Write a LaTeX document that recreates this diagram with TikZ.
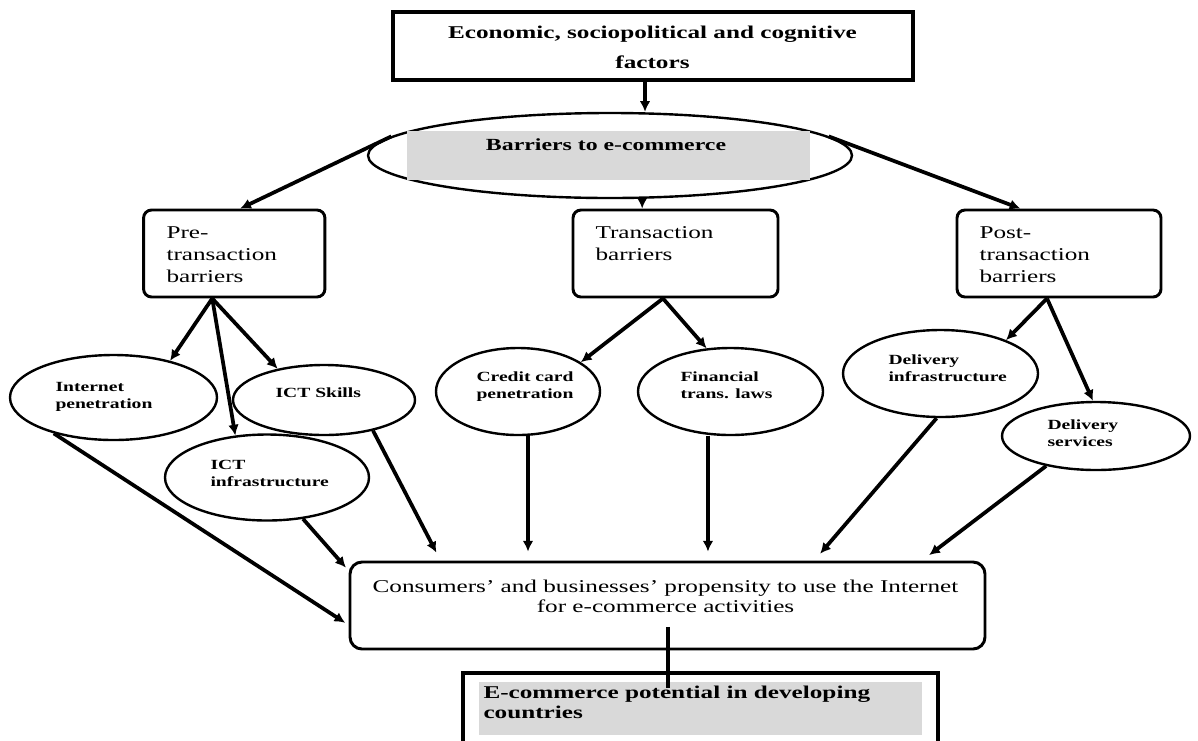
\documentclass[tikz,border=0pt]{standalone}
\usepackage{fontspec}
\setmainfont{Liberation Serif}[FakeStretch=1.4]
\usetikzlibrary{arrows.meta,shapes.geometric}

\definecolor{bandgray}{RGB}{217,217,217}

\tikzset{every picture/.style={line width=0.75pt}}
\tikzset{
  plainbox/.style={draw, rectangle, line width=2.4pt, inner sep=0pt},
  roundbox/.style={draw, rectangle, rounded corners=6pt, line width=2.2pt, inner sep=0pt},
  oval/.style={draw, ellipse, line width=1.8pt, inner sep=0pt},
  band/.style={fill=bandgray, rectangle, inner sep=0pt},
  headtxt/.style={inner sep=0pt, font=\fontsize{13.5}{22.5}\selectfont\bfseries},
  boxtxt/.style={inner sep=0pt, anchor=base west, align=left, font=\fontsize{13.5}{16.5}\selectfont},
  ovaltxt/.style={inner sep=0pt, anchor=base west, align=left, font=\fontsize{10.5}{12.75}\selectfont\bfseries},
  arr/.style={-{Latex[length=8pt,width=8pt]}, line width=2.8pt},
  tobox/.style={shorten >=6.75pt}
}

\begin{document}
\begin{tikzpicture}[x=0.75pt,y=0.75pt,yscale=-1,xscale=1]
\useasboundingbox (0,0) rectangle (1198,740);
\clip (0,0) rectangle (1198,740);

%Shape: Rectangle [top]
\node[plainbox, minimum width=390pt, minimum height=51pt] (econ) at (653,46) {};
% Text Node
\node[headtxt, anchor=base, align=center] (econtxt) at (652.5,68) {Economic, sociopolitical and cognitive\\factors};

%Shape: Ellipse [barriers]
\node[oval, minimum width=363pt, minimum height=63.75pt] (barr) at (610,155.5) {};
%Shape: Rectangle [barriers band]
\node[band, minimum width=302.25pt, minimum height=36.75pt] (barrband) at (608.5,155.5) {};
% Text Node
\node[inner sep=0pt, anchor=base, font=\fontsize{12.75}{15}\selectfont\bfseries] (barrtxt) at (606,150) {Barriers to e-commerce};

%Shape: Rounded Rectangle [stages]
\node[roundbox, minimum width=136pt, minimum height=65.25pt] (pre) at (234.25,253.5) {};
\node[roundbox, minimum width=153.75pt, minimum height=65.25pt] (trans) at (675.5,253.5) {};
\node[roundbox, minimum width=153pt, minimum height=65.25pt] (post) at (1059,253.5) {};
% Text Node
\node[boxtxt] (pretxt) at (166,282) {Pre-\\transaction\\barriers};
% Text Node
\node[boxtxt] (transtxt) at (595,260) {Transaction\\barriers};
% Text Node
\node[boxtxt] (posttxt) at (979,282) {Post-\\transaction\\barriers};

%Shape: Ellipse [factors]
\node[oval, minimum width=155.25pt, minimum height=63.75pt] (inet) at (113.5,397.5) {};
\node[oval, minimum width=136.5pt, minimum height=52.5pt] (skills) at (324,400) {};
\node[oval, minimum width=153pt, minimum height=64.5pt] (infra) at (267,477.5) {};
\node[oval, minimum width=123pt, minimum height=65.25pt] (credit) at (518,391.5) {};
\node[oval, minimum width=138.75pt, minimum height=65.25pt] (fin) at (730.5,391.5) {};
\node[oval, minimum width=146.25pt, minimum height=65.25pt] (dinfra) at (940.5,373.5) {};
\node[oval, minimum width=141pt, minimum height=51pt] (dserv) at (1096,436) {};
% Text Node
\node[ovaltxt] (inettxt) at (55,408) {Internet\\penetration};
% Text Node
\node[ovaltxt] (skillstxt) at (275,397) {ICT Skills};
% Text Node
\node[ovaltxt] (infratxt) at (210,486) {ICT\\infrastructure};
% Text Node
\node[ovaltxt] (credittxt) at (476,398) {Credit card\\penetration};
% Text Node
\node[ovaltxt] (fintxt) at (680,398) {Financial\\trans. laws};
% Text Node
\node[ovaltxt] (dinfratxt) at (888,381) {Delivery\\infrastructure};
% Text Node
\node[ovaltxt] (dservtxt) at (1047,446) {Delivery\\services};

%Shape: Rounded Rectangle [propensity]
\node[roundbox, rounded corners=9pt, minimum width=476.25pt, minimum height=65.25pt] (cons) at (667.5,605.5) {};
% Text Node
\node[inner sep=0pt, anchor=base, align=center, font=\fontsize{13.5}{15}\selectfont] (constxt) at (665.5,612) {Consumers' and businesses' propensity to use the Internet\\for e-commerce activities};

%Shape: Rectangle [potential]
\node[plainbox, minimum width=356.25pt, minimum height=58.5pt] (ecom) at (700.5,712) {};
\node[band, minimum width=332.25pt, minimum height=39.75pt] (ecomband) at (700.5,708.5) {};
% Text Node
\node[headtxt, anchor=base west, align=left, font=\fontsize{13.5}{15}\selectfont\bfseries] (ecomtxt) at (483,718) {E-commerce potential in developing\\countries};

%Straight Lines [top levels]
\draw[arr] ([xshift=-6pt]econ.south) -- ([xshift=-6pt]econ.south |- barr.north);
\draw[arr] (barr.175) -- ([xshift=4.5pt]pre.north);
\draw[arr] ([xshift=-25pt]trans.north |- barr.south) -- ([xshift=-25pt]trans.north);
\draw[arr] (barr.5) -- ([xshift=-29pt]post.north);

%Straight Lines [stages to factors]
\coordinate (prefoot) at ([xshift=-16.5pt]pre.south);
\coordinate (transfoot) at ([xshift=-9.4pt]trans.south);
\coordinate (postfoot) at ([xshift=-9pt]post.south);
\draw[arr] (prefoot) -- (inet.33);
\draw[arr] (prefoot) -- (infra.127);
\draw[arr] (prefoot) -- (skills.146);
\draw[arr] (transfoot) -- (credit.25);
\draw[arr] (transfoot) -- (fin.119);
\draw[arr] (postfoot) -- (dinfra.27);
\draw[arr] (postfoot) -- (dserv.95);

%Straight Lines [factors to propensity]
\draw[arr, shorten >=3pt] (inet.211) -- ([yshift=14.6pt]cons.west);
\draw[arr, shorten >=3pt] (infra.-49) -- ([yshift=7.5pt]cons.north west);
\draw[arr, tobox] (skills.-32) -- ([xshift=69pt]cons.north west);
\draw[arr, tobox] ([xshift=7.5pt]credit.south) -- ([xshift=7.5pt]credit.south |- cons.north);
\draw[arr, tobox] ([xshift=-16.9pt]fin.south) -- ([xshift=-16.9pt]fin.south |- cons.north);
\draw[arr, tobox] (dinfra.-95) -- ([xshift=349.3pt]cons.north west);
\draw[arr, tobox] (dserv.211) -- ([xshift=430.1pt]cons.north west);

%Straight Lines [propensity to potential]
\draw[line width=3pt] ([yshift=16pt]cons.center) -- ([yshift=-18pt]cons.center |- ecom.center);

\end{tikzpicture}
\end{document}
